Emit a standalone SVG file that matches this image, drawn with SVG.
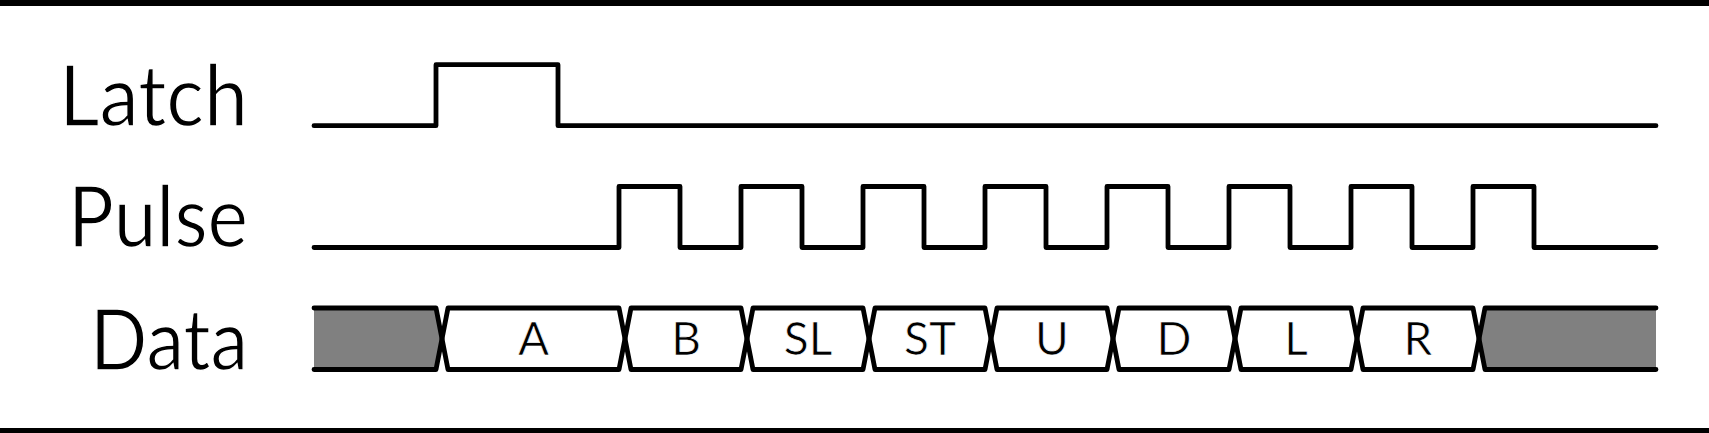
<svg xmlns="http://www.w3.org/2000/svg" width="1709" height="433" viewBox="0 0 1709 433">
<style>
.bg{fill:#ffffff}
.bar{fill:#000000}
.lbl{font-family:Lato,"Liberation Sans","DejaVu Sans",sans-serif;font-weight:400;font-size:86px;fill:#000000;stroke:#ffffff;stroke-width:1.4;text-anchor:end}
.dl{font-family:Lato,"Liberation Sans","DejaVu Sans",sans-serif;font-weight:400;font-size:46px;fill:#000000;stroke:#ffffff;stroke-width:0.7;text-anchor:middle}
.sig{fill:none;stroke:#000000;stroke-width:4.8;stroke-linecap:round;stroke-linejoin:round}
.gray{fill:#808080;stroke:none}
</style>
<rect class="bg" x="0" y="0" width="1709" height="433"/>
<rect class="bar" x="0" y="0" width="1709" height="6"/>
<rect class="bar" x="0" y="428" width="1709" height="5"/>
<g id="labels">
<text class="lbl" x="248" y="126" textLength="189" lengthAdjust="spacingAndGlyphs">Latch</text>
<text class="lbl" x="248" y="247" textLength="180" lengthAdjust="spacingAndGlyphs">Pulse</text>
<text class="lbl" x="248" y="370" textLength="158" lengthAdjust="spacingAndGlyphs">Data</text>
</g>
<g id="latch">
<path class="sig" d="M314,125.7 H436 V64.7 H558 V125.7 H1656"/>
</g>
<g id="pulse">
<path class="sig" d="M314,247.5 H619 V186.5 H680 V247.5 H741 V186.5 H802 V247.5 H863 V186.5 H924 V247.5 H985 V186.5 H1046 V247.5 H1107 V186.5 H1168 V247.5 H1229 V186.5 H1290 V247.5 H1351 V186.5 H1412 V247.5 H1473 V186.5 H1534 V247.5 H1656"/>
</g>
<g id="data">
<polygon class="gray" points="314,308 436,308 442,338.75 436,369.5 314,369.5"/>
<polygon class="gray" points="1479,338.75 1485,308 1656,308 1656,369.5 1485,369.5"/>
<path class="sig" d="M314,308 H436 L448,369.5 H619 L631,308 H741 L753,369.5 H863 L875,308 H985 L997,369.5 H1107 L1119,308 H1229 L1241,369.5 H1351 L1363,308 H1473 L1485,369.5 H1656"/>
<path class="sig" d="M314,369.5 H436 L448,308 H619 L631,369.5 H741 L753,308 H863 L875,369.5 H985 L997,308 H1107 L1119,369.5 H1229 L1241,308 H1351 L1363,369.5 H1473 L1485,308 H1656"/>
<g id="data-labels">
<text class="dl" x="533.5" y="355">A</text>
<text class="dl" x="686" y="355">B</text>
<text class="dl" x="808" y="355">SL</text>
<text class="dl" x="930" y="355">ST</text>
<text class="dl" x="1052" y="355">U</text>
<text class="dl" x="1174" y="355">D</text>
<text class="dl" x="1296" y="355">L</text>
<text class="dl" x="1418" y="355">R</text>
</g>
</g>
</svg>
